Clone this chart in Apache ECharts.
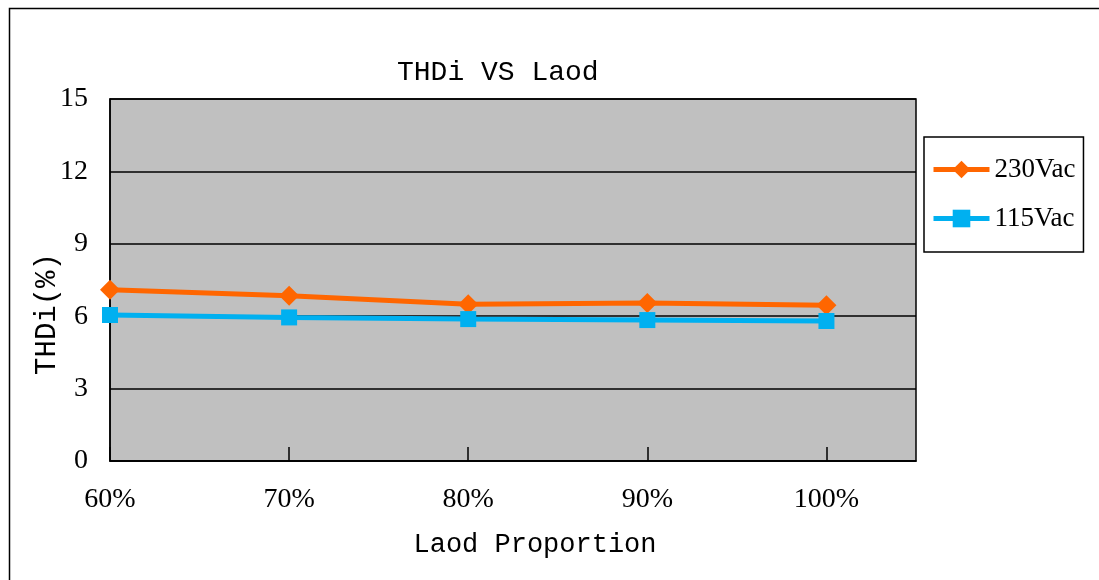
<!DOCTYPE html>
<html>
<head>
<meta charset="utf-8">
<script src="https://cdn.jsdelivr.net/npm/echarts@6/dist/echarts.min.js"></script>
<style>
html,body{margin:0;padding:0;background:#fff;}
#c{width:1099px;height:580px;}
</style>
</head>
<body>
<div id="c"></div>
<script>
const loads = [60, 70, 80, 90, 100];
const v230 = [7.1, 6.85, 6.5, 6.55, 6.45];
const v115 = [6.05, 5.95, 5.88, 5.84, 5.8];
const seriesNames = ['230Vac', '115Vac'];

const chart = echarts.init(document.getElementById('c'));
const serif = '"Liberation Serif", "DejaVu Serif", serif';
const mono = '"Liberation Mono", "DejaVu Sans Mono", monospace';

chart.setOption({
  animation: false,
  backgroundColor: '#fff',
  graphic: [{
    type: 'rect', left: 7, top: 6, z: -1,
    shape: { width: 1200, height: 700 },
    style: { fill: 'none', stroke: '#000', lineWidth: 1.5 }
  }],
  title: {
    text: 'THDi VS Laod', left: 392, top: 54,
    textStyle: { fontFamily: mono, fontSize: 28, fontWeight: 'normal', color: '#000' }
  },
  legend: {
    orient: 'vertical', left: 924, top: 137,
    width: 161,
    padding: [19, 8, 20, 7],
    borderColor: '#000', borderWidth: 1.5, backgroundColor: '#fff',
    itemWidth: 56, itemHeight: 22, itemGap: 22,
    lineStyle: { width: 5 },
    textStyle: { fontFamily: serif, fontSize: 27, color: '#000', padding: [0, 0, 0, 0] },
    data: seriesNames
  },
  grid: { left: 110, top: 99, right: 183, bottom: 119, show: true, backgroundColor: '#C0C0C0', borderColor: '#000', borderWidth: 1.5 },
  xAxis: {
    type: 'value', min: 60, max: 105, interval: 10,
    name: 'Laod Proportion', nameLocation: 'middle', nameGap: 70,
    nameTextStyle: { fontFamily: mono, fontSize: 27, color: '#000', padding: [0, 0, 0, 44] },
    axisLine: { lineStyle: { color: '#000', width: 1.5 } },
    axisTick: { inside: true, length: 14, lineStyle: { color: '#000', width: 1.5 } },
    splitLine: { show: false },
    axisLabel: { showMaxLabel: false, formatter: v => v + '%', margin: 25, fontFamily: serif, fontSize: 28, color: '#000' }
  },
  yAxis: {
    type: 'value', min: 0, max: 15, interval: 3,
    name: 'THDi(%)', nameLocation: 'middle', nameGap: 48, nameRotate: 90,
    nameMoveOverlap: false,
    nameTextStyle: { fontFamily: mono, fontSize: 29, color: '#000', padding: [0, 68, 0, 0] },
    axisLine: { show: true, lineStyle: { color: '#000', width: 1.5 } },
    axisTick: { show: false },
    splitLine: { lineStyle: { color: '#000', width: 1.5 } },
    axisLabel: { margin: 22, fontFamily: serif, fontSize: 28, color: '#000' }
  },
  series: [
    {
      name: seriesNames[0], type: 'line',
      data: loads.map((x, i) => [x, v230[i]]),
      symbol: 'diamond', symbolSize: 20,
      itemStyle: { color: '#FF6600' },
      lineStyle: { color: '#FF6600', width: 5 }
    },
    {
      name: seriesNames[1], type: 'line',
      data: loads.map((x, i) => [x, v115[i]]),
      symbol: 'rect', symbolSize: 16,
      itemStyle: { color: '#00B0F0' },
      lineStyle: { color: '#00B0F0', width: 5 }
    }
  ]
});
</script>
</body>
</html>
